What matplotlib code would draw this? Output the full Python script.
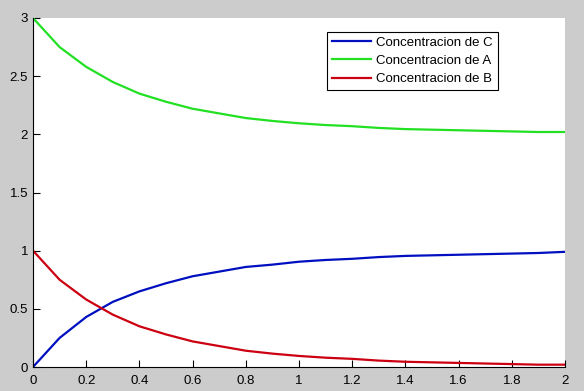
import matplotlib
matplotlib.use('Agg')
import matplotlib.pyplot as plt

plt.rcParams['font.family'] = ['Liberation Sans', 'DejaVu Sans']

t = [0.0, 0.1, 0.2, 0.3, 0.4, 0.5, 0.6, 0.7, 0.8, 0.9, 1.0,
     1.1, 1.2, 1.3, 1.4, 1.5, 1.6, 1.7, 1.8, 1.9, 2.0]
conc_C = [0.0, 0.25, 0.43, 0.56, 0.65, 0.72, 0.78, 0.82, 0.86, 0.88, 0.905,
          0.92, 0.93, 0.945, 0.955, 0.96, 0.965, 0.97, 0.975, 0.98, 0.99]
conc_A = [3.0, 2.75, 2.58, 2.45, 2.35, 2.28, 2.22, 2.18, 2.14, 2.115, 2.095,
          2.08, 2.07, 2.055, 2.045, 2.04, 2.035, 2.03, 2.025, 2.02, 2.02]
conc_B = [1.0, 0.75, 0.58, 0.45, 0.35, 0.28, 0.22, 0.18, 0.14, 0.115, 0.095,
          0.08, 0.07, 0.055, 0.045, 0.04, 0.035, 0.03, 0.025, 0.02, 0.02]

fig = plt.figure(figsize=(5.84, 3.91), dpi=100, facecolor='#cccccc')
ax = fig.add_axes([33/584, 24/391, 532/584, 349/391])

ax.plot(t, conc_C, color='#0010c0', lw=1.6, label='Concentracion de C')
ax.plot(t, conc_A, color='#22e022', lw=1.6, label='Concentracion de A')
ax.plot(t, conc_B, color='#cc0010', lw=1.6, label='Concentracion de B')

ax.set_xlim(0, 2)
ax.set_ylim(0, 3)
ax.set_xticks([0, 0.2, 0.4, 0.6, 0.8, 1, 1.2, 1.4, 1.6, 1.8, 2])
ax.set_xticklabels(['0', '0.2', '0.4', '0.6', '0.8', '1', '1.2', '1.4', '1.6', '1.8', '2'])
ax.set_yticks([0, 0.5, 1, 1.5, 2, 2.5, 3])
ax.set_yticklabels(['0', '0.5', '1', '1.5', '2', '2.5', '3'])
ax.tick_params(direction='in', length=5, labelsize=9.5, width=0.8)
ax.tick_params(axis='x', pad=6)
ax.spines['top'].set_visible(False)
ax.spines['right'].set_visible(False)

leg = ax.legend(loc='upper left', bbox_to_anchor=(327/584, 1-32/391),
                bbox_transform=fig.transFigure, fontsize=9.5, frameon=True,
                fancybox=False, framealpha=1, edgecolor='black',
                handlelength=3.0, handletextpad=0.4, borderpad=0.35,
                labelspacing=0.45, borderaxespad=0)
leg.get_frame().set_linewidth(0.8)

fig.savefig('out.png', dpi=100, facecolor=fig.get_facecolor())
